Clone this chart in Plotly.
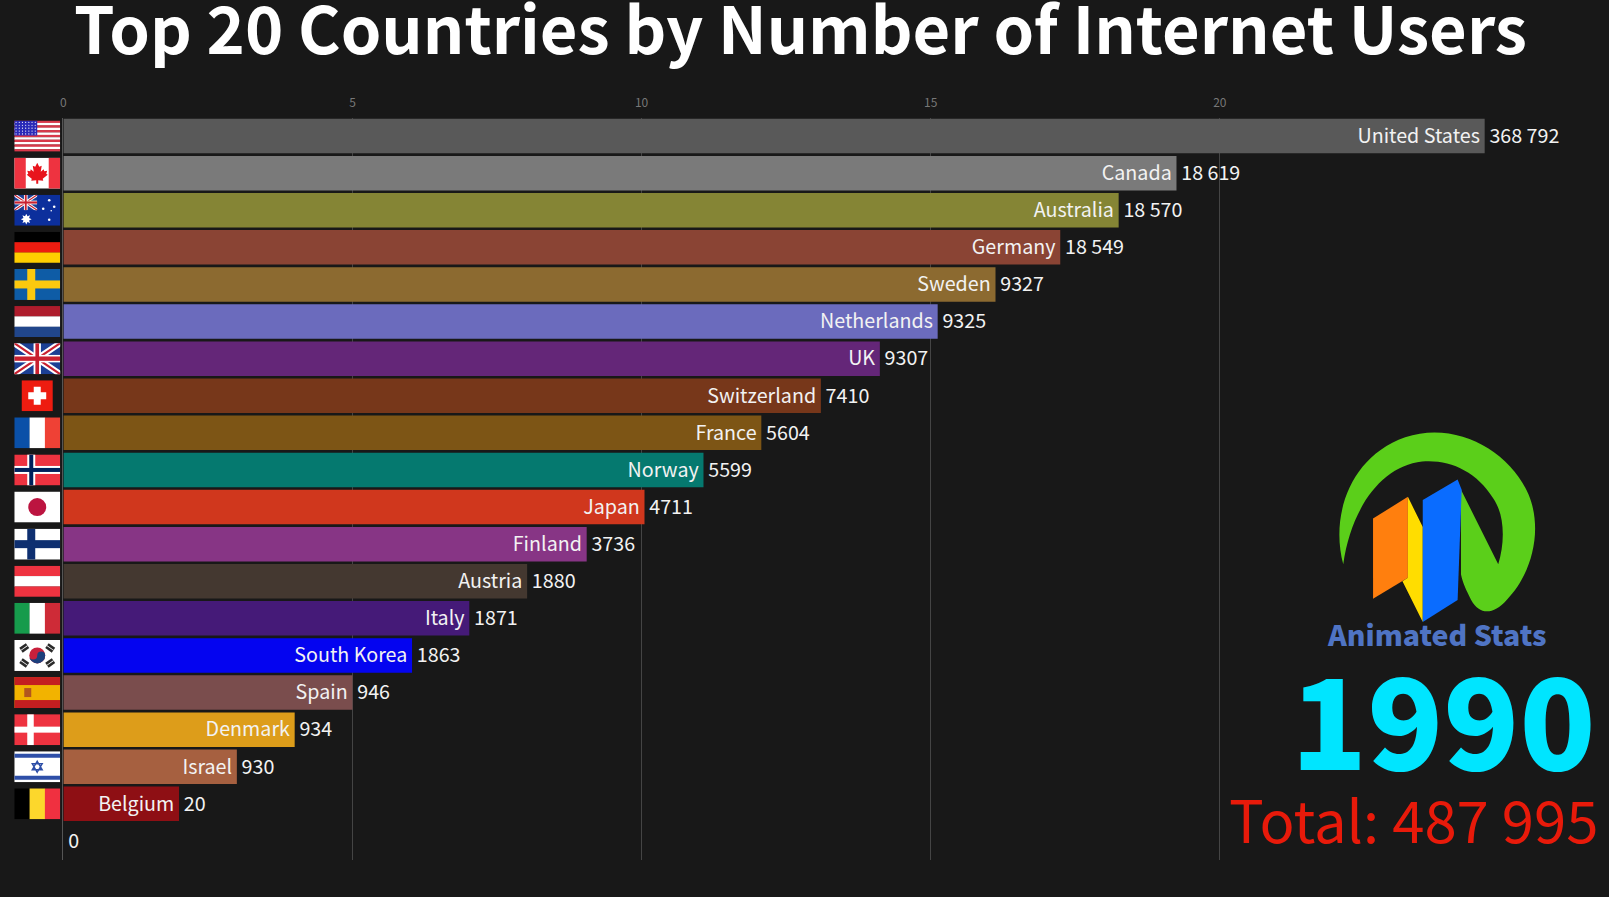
import base64
import plotly.graph_objects as go

# bar lengths are on the axis scale, the labels carry the real numbers
names = ["United States", "Canada", "Australia", "Germany", "Sweden", "Netherlands", "UK",
         "Switzerland", "France", "Norway", "Japan", "Finland", "Austria", "Italy",
         "South Korea", "Spain", "Denmark", "Israel", "Belgium", ""]
lengths = [24.58, 19.25, 18.25, 17.24, 16.12, 15.12, 14.12, 13.1, 12.07, 11.07, 10.05, 9.05, 8.02, 7.02,
           6.03, 5.0, 4.0, 3.0, 2.0, 0]
value_labels = ["368 792", "18 619", "18 570", "18 549", "9327", "9325", "9307", "7410", "5604",
                "5599", "4711", "3736", "1880", "1871", "1863", "946", "934", "930", "20", "0"]
colors = ["#595959", "#7a7a7a", "#858535", "#8a4434", "#8c6a30", "#6b6bbd", "#642678", "#77371a",
          "#7d5515", "#05796f", "#d0371d", "#873585", "#443830", "#451a78", "#0404f0", "#7a4d4d",
          "#dd9d1a", "#a66040", "#8e0f14", "#181818"]
ranks = list(range(1, 21))
x_ticks = [0, 5, 10, 15, 20]

W, H = 1609, 897
BG = "#181818"
FONT = "Noto Sans CJK SC"


def uri(body, w=46, h=31, view=None):
    view = view or f"0 0 {w} {h}"
    svg = f'<svg xmlns="http://www.w3.org/2000/svg" width="{w}" height="{h}" viewBox="{view}">{body}</svg>'
    return "data:image/svg+xml;base64," + base64.b64encode(svg.encode()).decode()


def rect(x, y, w, h, c):
    return f'<rect x="{x}" y="{y}" width="{w}" height="{h}" fill="{c}"/>'


def hbands(*cols):
    h = 31 / len(cols)
    return "".join(rect(0, i * h, 46, h + 0.2, c) for i, c in enumerate(cols))


def vbands(*cols):
    w = 46 / len(cols)
    return "".join(rect(i * w, 0, w + 0.2, 31, c) for i, c in enumerate(cols))


def nordic(bg, outer, inner=None):
    s = rect(0, 0, 46, 31, bg) + rect(13, 0, 8, 31, outer) + rect(0, 11.5, 46, 8, outer)
    if inner:
        s += rect(15, 0, 4, 31, inner) + rect(0, 13.5, 46, 4, inner)
    return s


def jack(w=46, h=31):
    return (rect(0, 0, w, h, "#1c3f94")
            + f'<path d="M0 0L{w} {h}M{w} 0L0 {h}" stroke="#fff" stroke-width="{h * .2}"/>'
            + f'<path d="M0 0L{w} {h}M{w} 0L0 {h}" stroke="#c8202f" stroke-width="{h * .07}"/>'
            + rect(w * .42, 0, w * .16, h, "#fff") + rect(0, h * .38, w, h * .24, "#fff")
            + rect(w * .46, 0, w * .08, h, "#c8202f") + rect(0, h * .43, w, h * .14, "#c8202f"))


def us_flag():
    s = hbands(*["#d8384a", "#ffffff"] * 6 + ["#d8384a"])
    s += rect(0, 0, 23, 15, "#2a2ab8")
    for r in range(5):
        for c in range(7):
            s += f'<circle cx="{1.8 + c * 3.2}" cy="{1.8 + r * 2.9}" r=".6" fill="#fff"/>'
    return s


MAPLE = "M23 5L25 9L27.5 8L26.5 14L29.5 11.5L30 13.5L33 13L32 16L33.5 17L28.5 21L29 23L24 22.5V26H22V22.5L17 23L17.5 21L12.5 17L14 16L13 13L16 13.5L16.5 11.5L19.5 14L18.5 8L21 9Z"
canada = rect(0, 0, 46, 31, "#fff") + rect(0, 0, 11.5, 31, "#ee3340") + rect(34.5, 0, 11.5, 31, "#ee3340") + f'<path d="{MAPLE}" fill="#e8141c"/>'

australia = rect(0, 0, 46, 31, "#0c2f9c") + f'<svg width="23" height="15.5" viewBox="0 0 46 31">{jack()}</svg>'
for cx, cy, r in [(35, 5.5, 1.3), (29, 14, 1.3), (40, 12, 1.3), (35, 25, 1.3), (37, 16, .8)]:
    australia += f'<circle cx="{cx}" cy="{cy}" r="{r}" fill="#fff"/>'
australia += '<path d="M12 19l1.2 2.6 2.6-1-1 2.7 2.6 1.2-2.6 1.2 1 2.6-2.6-1-1.2 2.5-1.2-2.5-2.6 1 1-2.6-2.6-1.2 2.6-1.2-1-2.7 2.6 1z" fill="#fff"/>'

swiss = rect(7.5, 0, 31, 31, "#ee1c10") + rect(19.5, 6.5, 7, 18, "#fff") + rect(14, 12, 18, 7, "#fff")
japan = rect(0, 0, 46, 31, "#fff") + '<circle cx="23" cy="15.5" r="9" fill="#bc1440"/>'
korea = rect(0, 0, 46, 31, "#fff") + '<circle cx="23" cy="15.5" r="8" fill="#c8203c"/>' \
    + '<path d="M15 15.5a8 8 0 0 0 16 0a4 4 0 0 0-8 0a4 4 0 0 1-8 0z" fill="#1c3f7c"/>'
for x1, y1 in [(10, 8), (36, 8), (10, 23), (36, 23)]:
    tilt = 35 if (x1 < 23) == (y1 < 15) else -35
    korea += f'<g transform="rotate({-tilt} {x1} {y1})">' + rect(x1 - 4, y1 - 3, 8, 6, "#2a2a2a") + rect(x1 - 4, y1 - .4, 8, .8, "#fff") + '</g>'
spain = rect(0, 0, 46, 31, "#f2b300") + rect(0, 0, 46, 8, "#c41e20") + rect(0, 23, 46, 8, "#c41e20") \
    + rect(10, 11, 7, 9, "#b2551e")
denmark = rect(0, 0, 46, 31, "#ee3340") + rect(13, 0, 6.5, 31, "#fff") + rect(0, 12.5, 46, 6, "#fff")
israel = rect(0, 0, 46, 31, "#fff") + rect(0, 2.5, 46, 4, "#2e4fa8") + rect(0, 24.5, 46, 4, "#2e4fa8") \
    + '<path d="M23 10l5 8.5h-10zM23 21l5-8.5h-10z" fill="none" stroke="#2e4fa8" stroke-width="1.4"/>'

# flags in row order, the last row has no flag
flags = [us_flag(), canada, australia, hbands("#000000", "#ee1c10", "#ffce00"),
         nordic("#0e5ca6", "#fcc90e"), hbands("#ae1c2c", "#ffffff", "#21468b"), jack(), swiss,
         vbands("#0a50a8", "#ffffff", "#ef4135"), nordic("#ee3340", "#ffffff", "#00205b"), japan,
         nordic("#ffffff", "#0e2f70"), hbands("#ee3340", "#ffffff", "#ee3340"),
         vbands("#169b4c", "#ffffff", "#ce2b37"), korea, spain, denmark, israel,
         vbands("#000000", "#fcd72c", "#f03040")]

logo_svg = (
    '<path d="M407 435C370 300 420 120 590 60C740 10 900 100 955 230C1000 340 960 470 890 540'
    'C850 585 810 585 785 540C770 510 760 490 755 465L755 215L865 435C885 370 885 290 850 240'
    'C800 160 720 125 640 132C520 145 430 270 407 435Z" fill="#5bcf1a"/>'
    '<path d="M495 300L598 236L598 475L495 537Z" fill="#ff7f0e"/>'
    '<path d="M598 236L642 325L642 605L582 485L598 475Z" fill="#ffdd00"/>'
    '<path d="M642 245L745 185L757 215L745 540L642 605Z" fill="#0a6cff"/>'
)

label_font = dict(family=FONT, size=19.7, color="#f2f2f2")
# the font sits a little high in its box, nudge the labels down to the bar centre
label_y = [r + 0.05 for r in ranks]

fig = go.Figure()
fig.add_trace(go.Bar(x=lengths, y=ranks, orientation="h", width=0.93,
                     marker=dict(color=colors, line=dict(width=0))))
# names and values sit on the same baseline, the hidden marker only gives the gap to the bar end
fig.add_trace(go.Scatter(x=lengths, y=label_y, mode="markers+text", text=names,
                         textposition="middle left", textfont=label_font,
                         marker=dict(size=6, opacity=0)))
fig.add_trace(go.Scatter(x=lengths, y=label_y, mode="markers+text", text=value_labels,
                         textposition="middle right", textfont=label_font,
                         marker=dict(size=6, opacity=0)))

images = [dict(source=uri(svg), xref="paper", yref="y", x=34.3 / W, y=rank,
               sizex=46 / W, sizey=31 / 37.1, xanchor="center", yanchor="middle",
               sizing="stretch", layer="above")
          for svg, rank in zip(flags, ranks)]
images.append(dict(source=uri(logo_svg, 208, 200, "380 30 610 590"), xref="paper", yref="paper",
                   x=1333 / W, y=1 - 427 / H, sizex=208 / W, sizey=200 / H,
                   xanchor="left", yanchor="top", sizing="stretch", layer="above"))


def px_note(text, x, y, size, color, weight="normal", anchor="center"):
    return dict(text=text, xref="paper", yref="paper", x=x / W, y=1 - y / H,
                xanchor=anchor, yanchor="middle", showarrow=False,
                font=dict(family=FONT, size=size, color=color, weight=weight))


annotations = [
    px_note("Top 20 Countries by Number of Internet Users", 799, 26, 65, "#ffffff", 700),
    px_note("Animated Stats", 1437, 633, 28.5, "#4f74c4", 900),
    px_note("1990", 1598, 715, 125, "#00e5ff", 900, "right"),
    px_note("Total: 487 995", 1600, 818, 58, "#e81a0a", "normal", "right"),
]

fig.update_layout(
    width=W, height=H, margin=dict(l=0, r=0, t=0, b=0), autosize=False,
    paper_bgcolor=BG, plot_bgcolor=BG, showlegend=False, bargap=0.07,
    images=images, annotations=annotations,
    xaxis=dict(domain=[60.5 / W, 1], range=[0, 26.73], side="top", tickvals=x_ticks,
               showgrid=True, gridcolor="#444444", gridwidth=1, zeroline=False, showline=False,
               ticks="", ticklabelstandoff=7, tickfont=dict(family=FONT, size=12, color="#777777")),
    yaxis=dict(domain=[1 - 859.5 / H, 1 - 117.5 / H], range=[20.5, 0.5], showticklabels=False,
               showgrid=False, zeroline=False, showline=True, linecolor="#555555", linewidth=1, ticks=""),
)

fig.write_html("out.html", config={"displayModeBar": False},
               post_script="document.body.style.margin='0';document.body.style.overflow='hidden';")
